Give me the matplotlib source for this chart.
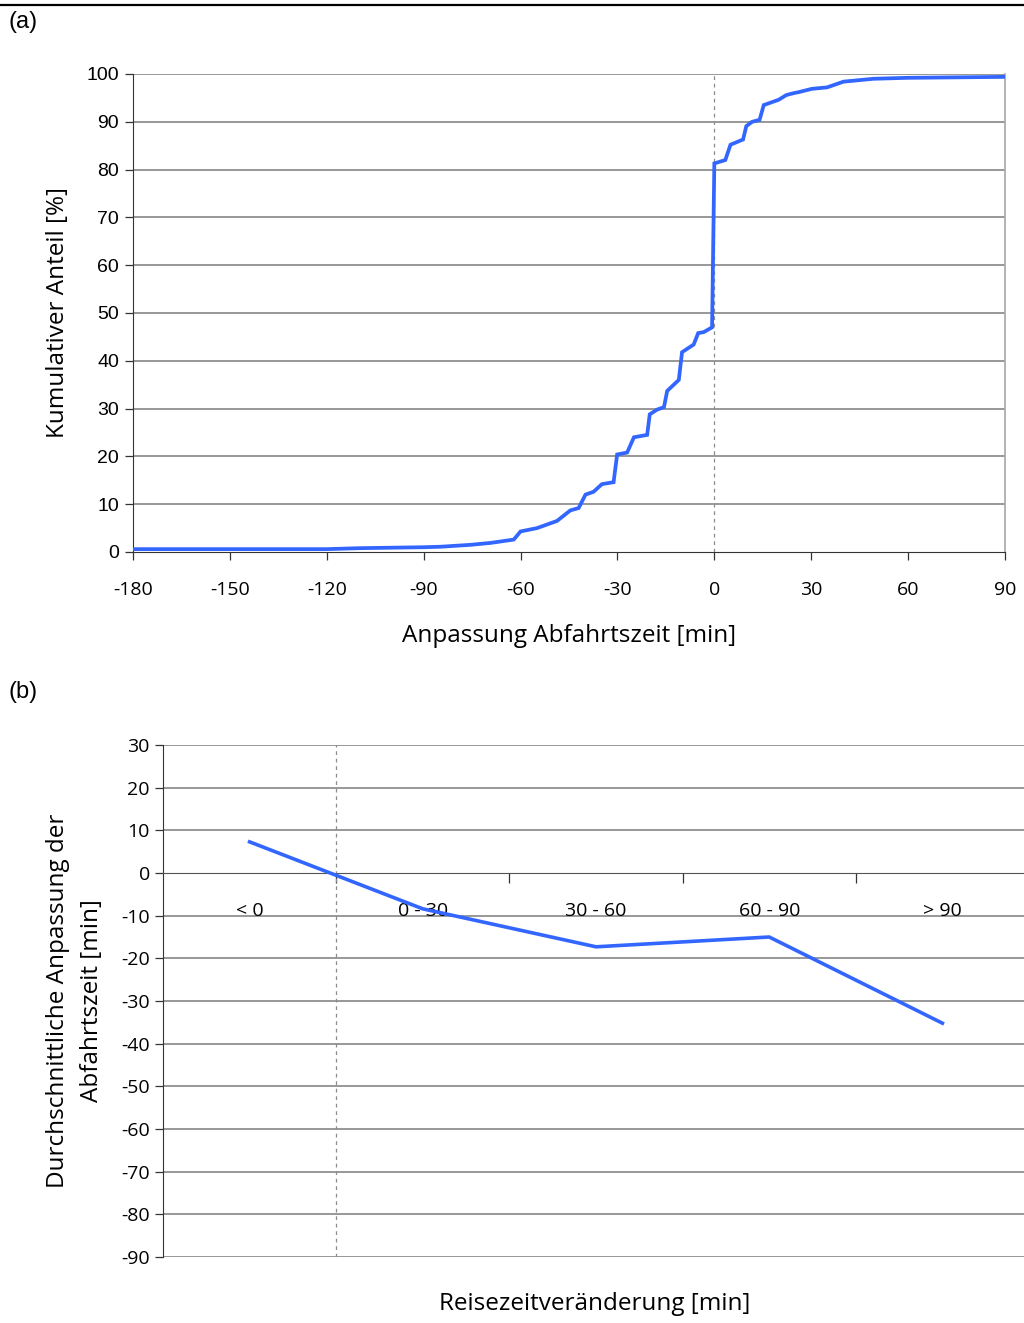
import matplotlib
matplotlib.use("Agg")
import matplotlib.pyplot as plt
from matplotlib.lines import Line2D
import numpy as np

plt.rcParams["axes.unicode_minus"] = False

# ---- panel (a): cumulative share vs. departure time adjustment ----
adj_min = [-180, -150, -120, -110, -100, -90, -84.8, -75.5, -69.3, -62.1, -60,
           -54.9, -48.7, -44.6, -42, -39.9, -37.4, -34.8, -31.2, -30.1, -27,
           -24.9, -20.8, -20, -17.7, -15.6, -14.6, -11, -10, -6.4, -5, -3.3,
           -0.7, 0, 3.4, 5, 8.9, 9.9, 11.7, 14, 15.3, 19.9, 22.3, 24.6, 26.1,
           30.2, 34.9, 40, 49.3, 59.7, 75, 90]
cum_share = [0.6, 0.6, 0.6, 0.8, 0.9, 1.0, 1.1, 1.5, 1.9, 2.6, 4.3,
             5.0, 6.5, 8.7, 9.2, 12.0, 12.6, 14.2, 14.6, 20.4, 20.8,
             24.0, 24.5, 28.8, 29.8, 30.3, 33.7, 36.0, 41.8, 43.4, 45.8, 46.0,
             47.0, 81.3, 82.0, 85.2, 86.3, 89.1, 90.0, 90.4, 93.5, 94.6, 95.6, 96.0, 96.2,
             96.9, 97.2, 98.4, 99.0, 99.2, 99.3, 99.4]
a_xticks = [-180, -150, -120, -90, -60, -30, 0, 30, 60, 90]
a_yticks = [0, 10, 20, 30, 40, 50, 60, 70, 80, 90, 100]

# ---- panel (b): mean adjustment by travel time change ----
categories = ["< 0", "0 - 30", "30 - 60", "60 - 90", "> 90"]
mean_adj = [7.3, -8.4, -17.3, -15.0, -35.2]
b_yticks = [30, 20, 10, 0, -10, -20, -30, -40, -50, -60, -70, -80, -90]

BLUE = "#3366ff"
GRID = "#868686"
SANS = ["Open Sans", "DejaVu Sans"]
ARIAL = ["Liberation Sans", "DejaVu Sans"]
LABEL_FS = 17.5
TICK_FS = 14

fig = plt.figure(figsize=(10.24, 13.23), dpi=100)
W, H = 1024, 1323


def px_axes(left, top, right, bottom):
    return fig.add_axes([left / W, 1 - bottom / H, (right - left) / W, (bottom - top) / H])


# top rule and panel letters
fig.add_artist(Line2D([0, 1], [1 - 5 / H, 1 - 5 / H], transform=fig.transFigure,
                      color="black", lw=1.6))
fig.text(9 / W, 1 - 22 / H, "(a)", fontsize=17, family=ARIAL, va="center", ha="left")
fig.text(9 / W, 1 - 692 / H, "(b)", fontsize=17, family=ARIAL, va="center", ha="left")

# ---------------- (a) ----------------
ax = px_axes(133, 74, 1005, 552)
ax.plot(adj_min, cum_share, color=BLUE, lw=2.7, solid_joinstyle="miter", zorder=3)
ax.axvline(0, color="#8c8c8c", lw=0.9, ls=(0, (3, 3)), zorder=2)
ax.set_xlim(-180, 90)
ax.set_ylim(0, 100)
ax.set_xticks(a_xticks)
ax.set_yticks(a_yticks)
for y in a_yticks[1:]:
    ax.axhline(y, color=GRID, lw=1.2, zorder=1)
ax.spines["top"].set_visible(False)
ax.spines["right"].set_color("#a6a6a6")
ax.spines["right"].set_linewidth(1.2)
ax.spines["left"].set_color("#333333")
ax.spines["bottom"].set_color("#333333")
ax.tick_params(axis="both", direction="out", length=6, width=0.9, color="#333333")
ax.tick_params(axis="x", pad=15)
ax.tick_params(axis="y", pad=4)
for lab in ax.get_xticklabels():
    lab.set_family(SANS)
    lab.set_fontsize(TICK_FS)
for lab in ax.get_yticklabels():
    lab.set_family(ARIAL)
    lab.set_fontsize(TICK_FS)
ax.set_ylabel("Kumulativer Anteil [%]", family=SANS, fontsize=LABEL_FS, labelpad=12)
ax.set_xlabel("Anpassung Abfahrtszeit [min]", family=SANS, fontsize=LABEL_FS, labelpad=18)

# ---------------- (b) ----------------
bx = px_axes(163, 745, 1029, 1257)
xpos = np.arange(len(categories)) + 0.5
bx.plot(xpos, mean_adj, color=BLUE, lw=2.6, zorder=3)
bx.axvline(1, color="#8c8c8c", lw=0.9, ls=(0, (3, 3)), zorder=2)
bx.set_xlim(0, len(categories))
bx.set_ylim(-90, 30)
bx.set_yticks(b_yticks)
for y in b_yticks:
    if y != 0:
        bx.axhline(y, color=GRID, lw=1.2, zorder=1)
bx.spines["top"].set_visible(False)
bx.spines["right"].set_visible(False)
bx.spines["bottom"].set_position(("data", 0))
bx.spines["bottom"].set_color("#555555")
bx.spines["left"].set_color("#333333")
bx.set_xticks(np.arange(1, len(categories)))
bx.set_xticklabels([])
bx.set_xticks(xpos, minor=True)
bx.set_xticklabels(categories, minor=True)
bx.tick_params(axis="x", which="major", direction="out", length=7, width=0.9, color="#333333")
bx.tick_params(axis="x", which="minor", length=0, pad=21, labelsize=TICK_FS)
bx.tick_params(axis="y", direction="out", length=6, width=0.9, color="#333333",
               labelsize=TICK_FS)
for lab in bx.get_xticklabels(minor=True) + bx.get_yticklabels():
    lab.set_family(SANS)
bx.set_ylabel("Durchschnittliche Anpassung der\nAbfahrtszeit [min]", family=SANS,
              fontsize=LABEL_FS, labelpad=12, linespacing=1.55)
fig.text(595 / W, 1 - 1304 / H, "Reisezeitveränderung [min]", family=SANS,
         fontsize=LABEL_FS, ha="center", va="center")

fig.savefig("out.png", dpi=100, facecolor="white")
